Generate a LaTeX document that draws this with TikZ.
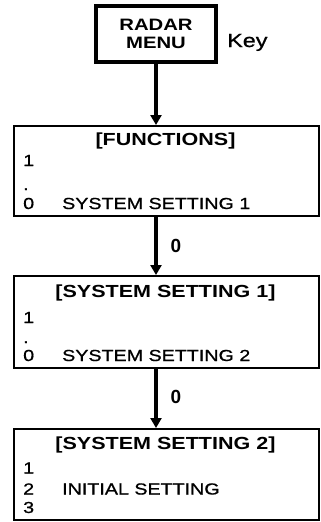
\documentclass[tikz,border=0pt]{standalone}
\usepackage{fontspec}
\setmainfont{Liberation Sans}[FakeStretch=1.23]
\newfontfamily\bodyfont{Liberation Sans}[FakeStretch=1.23, FakeBold=0.9]
\newfontfamily\labelfont{Liberation Sans}
\usetikzlibrary{arrows.meta}
\begin{document}
\begin{tikzpicture}[x=1pt,y=-1pt,
  box/.style={draw, line width=2.2pt, inner sep=0pt, anchor=north west, minimum width=305pt},
  radarbox/.style={draw, line width=3.5pt, inner sep=0pt, minimum width=120pt, minimum height=56pt, align=center, font=\fontsize{16.5}{18}\selectfont\bfseries},
  hdr/.style={anchor=base, inner sep=0pt, font=\fontsize{17.5}{20}\selectfont\bfseries},
  txt/.style={anchor=base west, inner sep=0pt, font=\bodyfont\fontsize{16}{18}\selectfont},
  arr/.style={line width=4pt, -{Triangle[width=11pt,length=10pt]}},
  lbl/.style={inner sep=0pt, font=\labelfont\fontsize{19}{20}\selectfont\bfseries}]
\useasboundingbox (0,0) rectangle (321,522);
% top key
\node[radarbox] (radar) at (156,34) {RADAR\\MENU};
\node[anchor=base west, inner sep=0pt, font=\bodyfont\fontsize{19}{22}\selectfont] (key) at (227,47) {Key};
% boxes
\node[box, minimum height=90pt] (b1) at (13,125) {};
\node[box, minimum height=92pt] (b2) at (13,275) {};
\node[box, minimum height=91pt] (b3) at (13,428) {};
% arrows
\draw[arr] (radar.south) -- (radar.south |- b1.north);
\draw[arr] (radar.south |- b1.south) -- (radar.south |- b2.north);
\draw[arr] (radar.south |- b2.south) -- (radar.south |- b3.north);
\node[lbl] (l1) at (176,246) {0};
\node[lbl] (l2) at (176,397) {0};
% box 1 text
\node[hdr] (h1) at (165.5,145) {[FUNCTIONS]};
\node[txt] (b1a) at (23,166) {1};
\node[txt] (b1d) at (23,190) {.};
\node[txt] (b1z) at (23,209) {0};
\node[txt] (b1s) at (62,209) {SYSTEM SETTING 1};
% box 2 text
\node[hdr] (h2) at (165.5,297) {[SYSTEM SETTING 1]};
\node[txt] (b2a) at (23,323) {1};
\node[txt] (b2d) at (23,343) {.};
\node[txt] (b2z) at (23,361) {0};
\node[txt] (b2s) at (62,361) {SYSTEM SETTING 2};
% box 3 text
\node[hdr] (h3) at (165.5,449.5) {[SYSTEM SETTING 2]};
\node[txt] (b3a) at (23,473.5) {1};
\node[txt] (b3b) at (23,494.5) {2};
\node[txt] (b3c) at (23,513) {3};
\node[txt] (b3s) at (62,494.5) {INITIAL SETTING};
\end{tikzpicture}
\end{document}
